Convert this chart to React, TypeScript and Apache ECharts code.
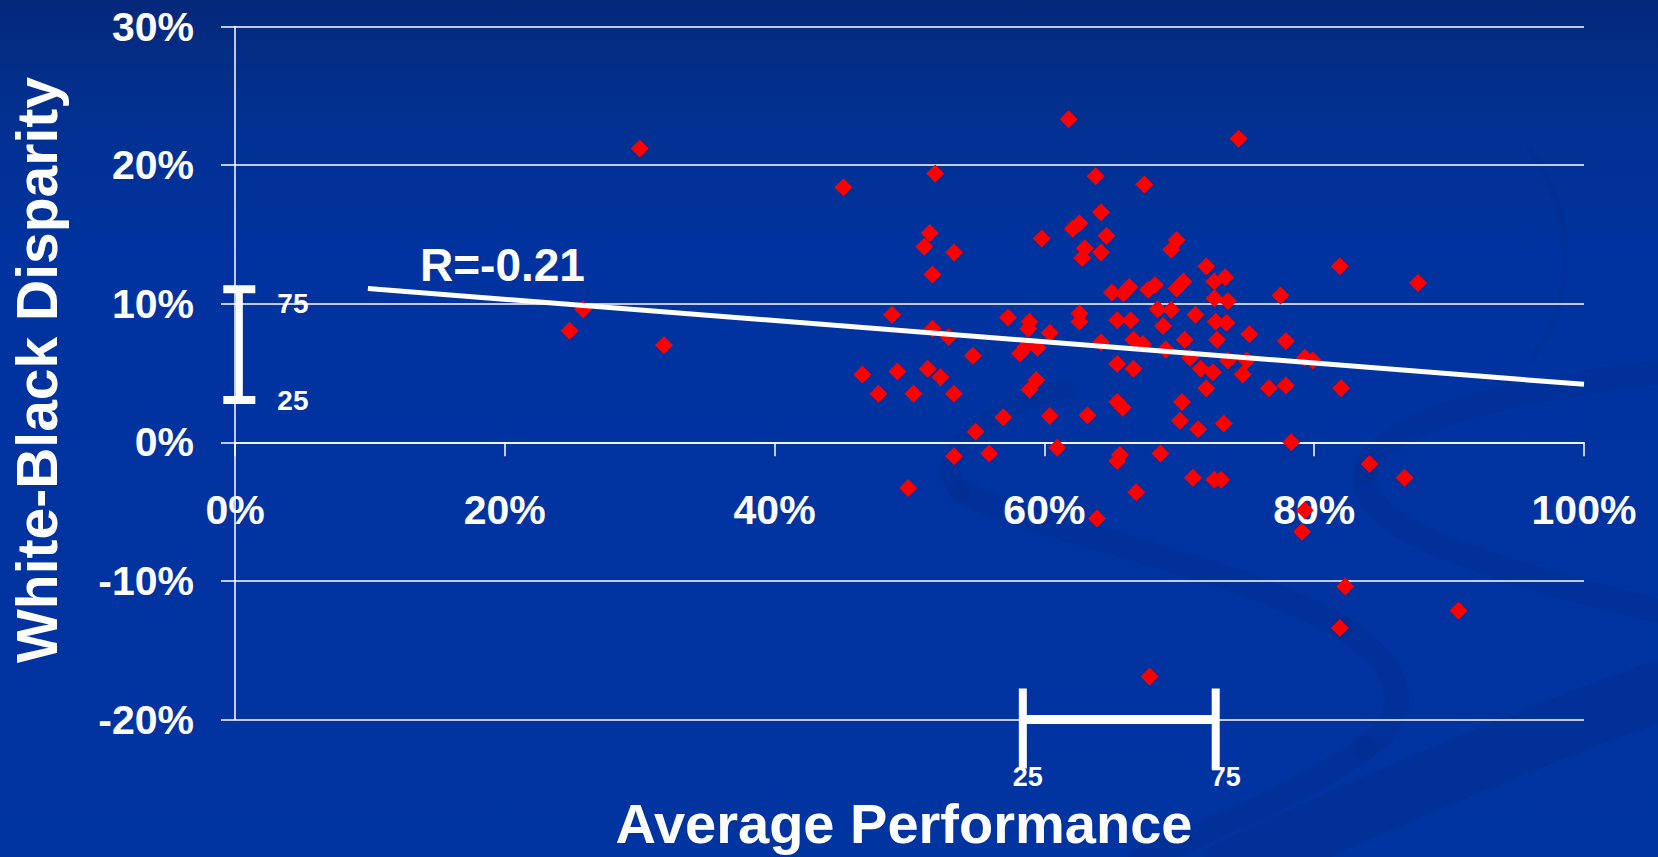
import React, { useEffect, useRef } from "react";
import * as echarts from "echarts";

// Average performance (%) of each school/district
const performance: number[] = [
  30.0, 45.1, 51.9, 51.5, 51.1, 53.3, 51.7, 25.8, 24.8, 31.8, 48.7, 51.7, 52.9, 46.5, 49.1, 51.35, 52.3, 47.7, 50.3, 53.3, 53.3, 49.9,
  61.8, 74.4, 63.8, 67.4, 59.8, 64.2, 62.6, 62.1, 64.6, 63.0, 62.8, 64.2, 69.8, 69.4, 72.0, 81.9, 73.4, 72.6, 70.3, 69.8, 68.2, 67.7,
  66.3, 65.85, 65.0, 72.6, 73.6, 77.5, 68.4, 69.4, 71.2, 57.3, 58.9, 62.6, 62.6, 65.4, 66.4, 68.8, 72.7, 73.5, 58.8, 60.4, 75.2, 70.4,
  72.8, 77.9, 64.2, 66.6, 67.3, 58.6, 59.5, 58.2, 69.0, 54.7, 70.8, 73.6, 75.0, 79.3, 79.9, 65.4, 66.6, 71.6, 72.5, 74.7, 59.4, 58.9,
  72.0, 76.65, 77.9, 82.0, 65.4, 65.8, 70.2, 56.95, 60.4, 63.2, 70.05, 71.4, 73.3, 54.9, 78.3, 55.9, 60.95, 65.6, 65.4, 68.6, 71.0,
  72.6, 73.1, 66.8, 63.9, 84.1, 86.7, 79.1, 79.3, 82.3, 90.7, 81.9, 67.8, 87.7,
];

// White-Black disparity (%) for the same schools/districts
const disparity: number[] = [
  21.2, 18.4, 19.4, 15.1, 14.1, 13.7, 12.1, 9.6, 8.05, 7.0, 9.2, 8.2, 7.6, 4.9, 5.1, 5.3, 4.7, 3.5, 3.5, 3.5, -1.0, -3.3,
  23.3, 21.9, 19.2, 18.6, 14.7, 16.6, 15.8, 15.4, 14.9, 14.0, 13.3, 13.7, 14.6, 13.9, 12.7, 12.7, 11.9, 11.6, 11.6, 11.1, 11.35, 11.0,
  11.2, 10.75, 10.8, 10.4, 10.2, 10.6, 9.6, 9.55, 9.2, 9.0, 8.7, 9.3, 8.7, 8.8, 8.8, 8.4, 8.7, 8.6, 8.2, 7.9, 7.8, 7.4,
  7.4, 7.3, 7.2, 7.4, 7.1, 6.9, 6.8, 6.4, 6.7, 6.25, 6.1, 5.9, 5.9, 6.1, 5.9, 5.65, 5.3, 5.3, 5.05, 4.9, 4.5, 3.8,
  3.9, 3.9, 4.1, 3.9, 2.9, 2.5, 2.9, 1.8, 1.9, 1.95, 1.55, 0.95, 1.35, 0.76, 0.0, -0.8, -0.4, -0.9, -1.35, -0.8, -2.55,
  -2.7, -2.7, -3.6, -5.5, -1.57, -2.55, -6.45, -4.9, -10.4, -12.15, -13.4, -16.9, 11.5,
];

// Regression (trend) line end points [performance, disparity]
const trendX: number[] = [9.85, 100];
const trendY: number[] = [11.1, 4.18];
const correlationLabel = "R=-0.21";

// Inter-quartile ranges (25th / 75th percentiles)
const percentileLabels: string[] = ["25", "75"];
const disparityIQR: number[] = [3.05, 11.05]; // drawn at performance = 0.32
const disparityIQRAt = 0.32;
const performanceIQR: number[] = [58.4, 72.7]; // drawn at disparity = -20
const performanceIQRAt = -20;

// Axes
const xTicks = { min: 0, max: 100, interval: 20 };
const yTicks = { min: -20, max: 30, interval: 10 };
const xTitle = "Average Performance";
const yTitle = "White-Black Disparity";

const FONT = '"Liberation Sans", Arial, Helvetica, sans-serif';

const GRID_TOP = 26.5;
const GRID_H = 693;

export default function App() {
  const ref = useRef<HTMLDivElement>(null);

  useEffect(() => {
    if (!ref.current) return;
    const chart = echarts.init(ref.current, undefined, { renderer: "svg" });

    const points = performance.map((x, i) => [x, disparity[i]]);
    const trend = trendX.map((x, i) => [x, trendY[i]]);

    // distance from the bottom of the grid to the zero line
    const zeroOffset = (GRID_H * (0 - yTicks.min)) / (yTicks.max - yTicks.min);

    const swoosh = (x1: number, y1: number, cpx1: number, cpy1: number, cpx2: number, cpy2: number, x2: number, y2: number, w: number, op: number) => ({
      type: "bezierCurve",
      z: -10,
      silent: true,
      shape: { x1, y1, cpx1, cpy1, cpx2, cpy2, x2, y2 },
      style: { stroke: "#00287e", lineWidth: w, opacity: op, fill: "none", lineCap: "round" },
    });

    const option: any = {
      animation: false,
      backgroundColor: "transparent",
      grid: { left: 235, top: GRID_TOP, width: 1349, height: GRID_H, containLabel: false },
      xAxis: {
        type: "value",
        min: xTicks.min,
        max: xTicks.max,
        interval: xTicks.interval,
        position: "bottom",
        offset: -zeroOffset,
        axisLine: { show: true, onZero: false, lineStyle: { color: "#ffffff", width: 1.5 } },
        axisTick: { show: true, inside: false, length: 14, lineStyle: { color: "#ffffff", width: 1.5 } },
        splitLine: { show: false },
        axisLabel: {
          formatter: "{value}%",
          color: "#ffffff",
          fontSize: 41,
          fontWeight: "bold",
          fontFamily: FONT,
          margin: 47,
        },
      },
      yAxis: {
        type: "value",
        min: yTicks.min,
        max: yTicks.max,
        interval: yTicks.interval,
        axisLine: { show: true, onZero: false, lineStyle: { color: "#ffffff", width: 1.5 } },
        axisTick: { show: true, inside: false, length: 14, lineStyle: { color: "#ffffff", width: 1.5 } },
        splitLine: { show: true, lineStyle: { color: "#ffffff", width: 1.5 } },
        axisLabel: {
          formatter: "{value}%",
          color: "#ffffff",
          fontSize: 41,
          fontWeight: "bold",
          fontFamily: FONT,
          margin: 41,
        },
      },
      graphic: [
        // subtle background swooshes
        swoosh(1070, 388, 980, 405, 925, 465, 962, 492, 18, 0.22),
        swoosh(962, 492, 1030, 528, 1250, 570, 1342, 628, 24, 0.22),
        swoosh(1342, 628, 1412, 672, 1410, 720, 1365, 748, 24, 0.22),
        swoosh(1365, 748, 1320, 782, 1230, 822, 1140, 860, 24, 0.22),
        swoosh(1662, 372, 1520, 388, 1378, 420, 1366, 472, 24, 0.22),
        swoosh(1366, 472, 1352, 530, 1500, 572, 1662, 612, 24, 0.22),
        swoosh(1662, 690, 1520, 740, 1380, 800, 1230, 870, 60, 0.25),
        swoosh(1530, 150, 1575, 210, 1580, 300, 1530, 360, 6, 0.18),
        {
          type: "text",
          z: 10,
          x: 420,
          y: 265,
          style: {
            text: correlationLabel,
            fill: "#ffffff",
            fontSize: 46,
            fontWeight: "bold",
            fontFamily: FONT,
            align: "left",
            verticalAlign: "middle",
          },
        },
        {
          type: "text",
          z: 10,
          x: 904,
          y: 823,
          style: {
            text: xTitle,
            fill: "#ffffff",
            fontSize: 56,
            lineHeight: 46,
            fontWeight: "bold",
            fontFamily: FONT,
            align: "center",
            verticalAlign: "middle",
          },
        },
        {
          type: "text",
          z: 10,
          x: 37,
          y: 370,
          rotation: Math.PI / 2,
          style: {
            text: yTitle,
            fill: "#ffffff",
            fontSize: 57,
            fontWeight: "bold",
            fontFamily: FONT,
            align: "center",
            verticalAlign: "middle",
          },
        },
      ],
      series: [
        {
          type: "scatter",
          data: points,
          symbol: "diamond",
          symbolSize: 18,
          itemStyle: { color: "#ff0000", opacity: 1 },
          z: 3,
        },
        {
          type: "line",
          data: trend,
          showSymbol: false,
          symbol: "none",
          lineStyle: { color: "#ffffff", width: 5 },
          z: 4,
        },
        {
          type: "custom",
          clip: false,
          z: 5,
          data: [[disparityIQRAt, disparityIQR[0], disparityIQR[1]]],
          renderItem: (params: any, api: any) => {
            const x = api.value(0);
            const lo = api.coord([x, api.value(1)]);
            const hi = api.coord([x, api.value(2)]);
            const txt = (t: string, px: number, py: number) => ({
              type: "text",
              x: px,
              y: py,
              style: { text: t, fill: "#ffffff", fontSize: 28, lineHeight: 24, fontWeight: "bold", fontFamily: FONT, align: "left", verticalAlign: "middle" },
            });
            return {
              type: "group",
              children: [
                { type: "line", shape: { x1: lo[0], y1: lo[1], x2: hi[0], y2: hi[1] }, style: { stroke: "#ffffff", lineWidth: 7 } },
                { type: "line", shape: { x1: lo[0] - 16, y1: lo[1], x2: lo[0] + 16, y2: lo[1] }, style: { stroke: "#ffffff", lineWidth: 8 } },
                { type: "line", shape: { x1: hi[0] - 16, y1: hi[1], x2: hi[0] + 16, y2: hi[1] }, style: { stroke: "#ffffff", lineWidth: 8 } },
                txt(percentileLabels[0], lo[0] + 38, lo[1]),
                txt(percentileLabels[1], hi[0] + 38, hi[1] + 14),
              ],
            };
          },
        },
        {
          type: "custom",
          clip: false,
          z: 5,
          data: [[performanceIQRAt, performanceIQR[0], performanceIQR[1]]],
          renderItem: (params: any, api: any) => {
            const y = api.value(0);
            const lo = api.coord([api.value(1), y]);
            const hi = api.coord([api.value(2), y]);
            const txt = (t: string, px: number, py: number) => ({
              type: "text",
              x: px,
              y: py,
              style: { text: t, fill: "#ffffff", fontSize: 27, lineHeight: 24, fontWeight: "bold", fontFamily: FONT, align: "center", verticalAlign: "middle" },
            });
            return {
              type: "group",
              children: [
                { type: "line", shape: { x1: lo[0], y1: lo[1], x2: hi[0], y2: hi[1] }, style: { stroke: "#ffffff", lineWidth: 9 } },
                { type: "line", shape: { x1: lo[0], y1: lo[1] - 31, x2: lo[0], y2: lo[1] + 49 }, style: { stroke: "#ffffff", lineWidth: 8 } },
                { type: "line", shape: { x1: hi[0], y1: hi[1] - 31, x2: hi[0], y2: hi[1] + 49 }, style: { stroke: "#ffffff", lineWidth: 8 } },
                txt(percentileLabels[0], lo[0] + 5, lo[1] + 57),
                txt(percentileLabels[1], hi[0] + 10, hi[1] + 57),
              ],
            };
          },
        },
      ],
    };

    chart.setOption(option);
    return () => chart.dispose();
  }, []);

  return (
    <div
      style={{
        position: "fixed",
        left: 0,
        top: 0,
        width: 1658,
        height: 857,
        background: "linear-gradient(180deg, #04287a 0%, #02308f 12%, #0033a0 30%, #0034a0 100%)",
      }}
    >
      <div ref={ref} style={{ width: 1658, height: 857 }} />
    </div>
  );
}
